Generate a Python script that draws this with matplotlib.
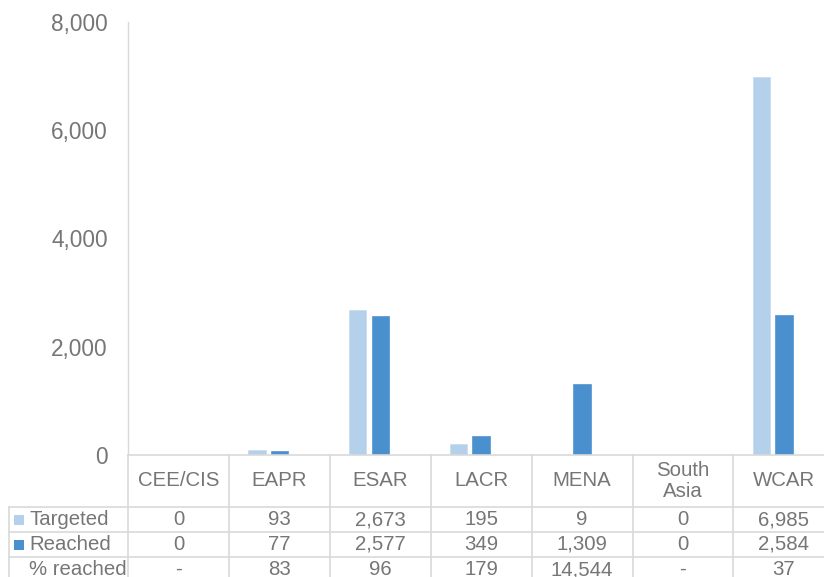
import matplotlib
matplotlib.use("Agg")
import matplotlib.pyplot as plt
from matplotlib.transforms import blended_transform_factory
from matplotlib.lines import Line2D
from matplotlib.patches import Rectangle

plt.rcParams['font.family'] = ['Liberation Sans', 'DejaVu Sans']

regions = ['CEE/CIS', 'EAPR', 'ESAR', 'LACR', 'MENA', 'South\nAsia', 'WCAR']
targeted = [0, 93, 2673, 195, 9, 0, 6985]
reached = [0, 77, 2577, 349, 1309, 0, 2584]
pct_reached = ['-', '83', '96', '179', '14,544', '-', '37']
series_names = ['Targeted', 'Reached', '% reached']

c_target = '#B4D0EA'
c_reach = '#4A90CE'
c_text = '#767676'
c_grid = '#D9D9D9'

W, H = 824, 577
fig = plt.figure(figsize=(W / 100, H / 100), dpi=100)


def fx(px):
    return px / W


def fy(py):
    return 1 - py / H


ax_left, ax_top, ax_bot, cat_w = 128, 22, 455, 100.9
ax = fig.add_axes([fx(ax_left), fy(ax_bot), fx(cat_w * 7), (ax_bot - ax_top) / H])

n = len(regions)
xs = [i + 0.5 for i in range(n)]
bw = 0.173
ax.bar([x - 0.223 for x in xs], targeted, width=bw, color=c_target,
       edgecolor='#C9DDF0', linewidth=0.6)
ax.bar(xs, reached, width=bw, color=c_reach, edgecolor='#5E9DD5', linewidth=0.6)

ax.set_xlim(0, n)
ax.set_ylim(0, 8000)
ax.set_yticks(range(0, 8001, 2000))
ax.set_yticklabels([f'{v:,}' for v in range(0, 8001, 2000)])
ax.tick_params(axis='y', length=0, pad=14.4, labelsize=16.3, labelcolor=c_text)
ax.set_xticks([])
for s in ['top', 'right', 'bottom']:
    ax.spines[s].set_visible(False)
ax.spines['left'].set_color(c_grid)
ax.spines['left'].set_linewidth(1)

# data table below the plot
tr = blended_transform_factory(ax.transData, fig.transFigure)
row_y = [507, 532, 557, 582]
head_mid = (ax_bot + row_y[0]) / 2
tbl_left = 9
fs = 14.7

def hline(y, x0, x1):
    fig.add_artist(Line2D([fx(x0), fx(x1)], [fy(y), fy(y)], color=c_grid, lw=1.2))

def vline(x, y0, y1):
    fig.add_artist(Line2D([fx(x), fx(x)], [fy(y0), fy(y1)], color=c_grid, lw=1.2))

hline(ax_bot, ax_left, W)
for y in row_y[:3]:
    hline(y, tbl_left, W)
vline(tbl_left, row_y[0], H)
for i in range(n + 1):
    vline(ax_left + i * cat_w, ax_bot, H)

for i, r in enumerate(regions):
    ax.text(xs[i], fy(head_mid), r, transform=tr, ha='center', va='center',
            fontsize=fs, color=c_text, linespacing=1.1, clip_on=False)

rows = [[f'{v:,}' for v in targeted], [f'{v:,}' for v in reached], pct_reached]
keys = [c_target, c_reach, None]
for j, (name, vals) in enumerate(zip(series_names, rows)):
    ymid = (row_y[j] + row_y[j + 1]) / 2
    if keys[j]:
        fig.add_artist(Rectangle((fx(14), fy(ymid + 5)), fx(10), 10 / H,
                                 color=keys[j], lw=0))
    fig.text(fx(29), fy(ymid), name, ha='left', va='center',
             fontsize=fs, color=c_text)
    for i, v in enumerate(vals):
        ax.text(xs[i], fy(ymid), v, transform=tr, ha='center', va='center',
                fontsize=fs, color=c_text, clip_on=False)

fig.savefig('out.png', dpi=100)
